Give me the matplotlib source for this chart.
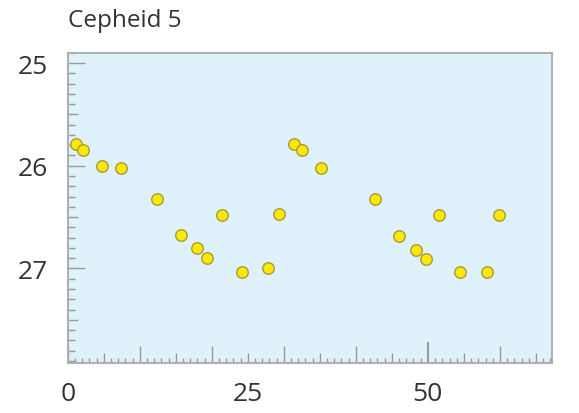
import matplotlib.pyplot as plt
from matplotlib.ticker import MultipleLocator, FuncFormatter

plt.rcParams['font.family'] = ['Open Sans', 'DejaVu Sans']

# observation day vs apparent magnitude
days = [1.15, 2.17, 4.72, 7.36, 12.33, 15.74, 17.92, 19.35, 21.39, 24.17, 27.86, 29.39,
        31.43, 32.5, 35.14, 42.68, 45.97, 48.33, 49.76, 51.57, 54.44, 58.19, 59.86]
mags = [25.79, 25.85, 26.00, 26.02, 26.32, 26.67, 26.80, 26.90, 26.48, 27.03, 27.00, 26.47,
        25.79, 25.85, 26.02, 26.32, 26.68, 26.82, 26.91, 26.48, 27.03, 27.03, 26.48]
x_labels = [0, 25, 50]
y_labels = [25, 26, 27]

fig = plt.figure(figsize=(5.79, 4.14), dpi=100)
ax = fig.add_axes([0.117, 0.121, 0.836, 0.749])
ax.set_facecolor('#dff2fb')

ax.plot(days, mags, 'o', ms=8.3, mfc='#ffe800', mec='#a89a3a', mew=1.0, zorder=3)

ax.set_xlim(0, 67.2)
ax.set_ylim(27.92, 24.9)

for s in ax.spines.values():
    s.set_color('#b0b0b0')
    s.set_linewidth(1.5)

ax.xaxis.set_major_locator(MultipleLocator(5))
ax.xaxis.set_minor_locator(MultipleLocator(1))
ax.yaxis.set_major_locator(MultipleLocator(0.5))
ax.yaxis.set_minor_locator(MultipleLocator(0.1))
ax.xaxis.set_major_formatter(FuncFormatter(lambda v, p: f'{v:.0f}' if round(v) in x_labels and abs(v - round(v)) < 1e-6 else ''))
ax.yaxis.set_major_formatter(FuncFormatter(lambda v, p: f'{v:.0f}' if abs(v - round(v)) < 1e-6 and round(v) in y_labels else ''))

ax.tick_params(which='both', direction='in', colors='#999999', labelcolor='#333333',
               labelsize=19, top=False, right=False)
ax.tick_params(axis='x', which='minor', length=3.5, width=1)
ax.tick_params(axis='y', which='minor', length=5, width=1)
ax.tick_params(axis='x', which='major', length=7, width=1, pad=13)
ax.tick_params(axis='y', which='major', length=7.5, width=1, pad=14)

fig.canvas.draw()
for t in ax.xaxis.get_major_ticks():
    v = t.get_loc()
    if abs(v - 50) < 1e-6:
        t.tick1line.set_markersize(15)
        t.tick1line.set_color('#333333')
        t.tick1line.set_markeredgewidth(1.5)
    elif abs(v % 10) < 1e-6:
        t.tick1line.set_markersize(12)
for t in ax.yaxis.get_major_ticks():
    v = t.get_loc()
    if abs(v - round(v)) < 1e-6:
        t.tick1line.set_markersize(12)

fig.text(0.117, 0.935, 'Cepheid 5', fontsize=17.5, color='#333333', ha='left', va='baseline')

fig.savefig('out.png', dpi=100)
